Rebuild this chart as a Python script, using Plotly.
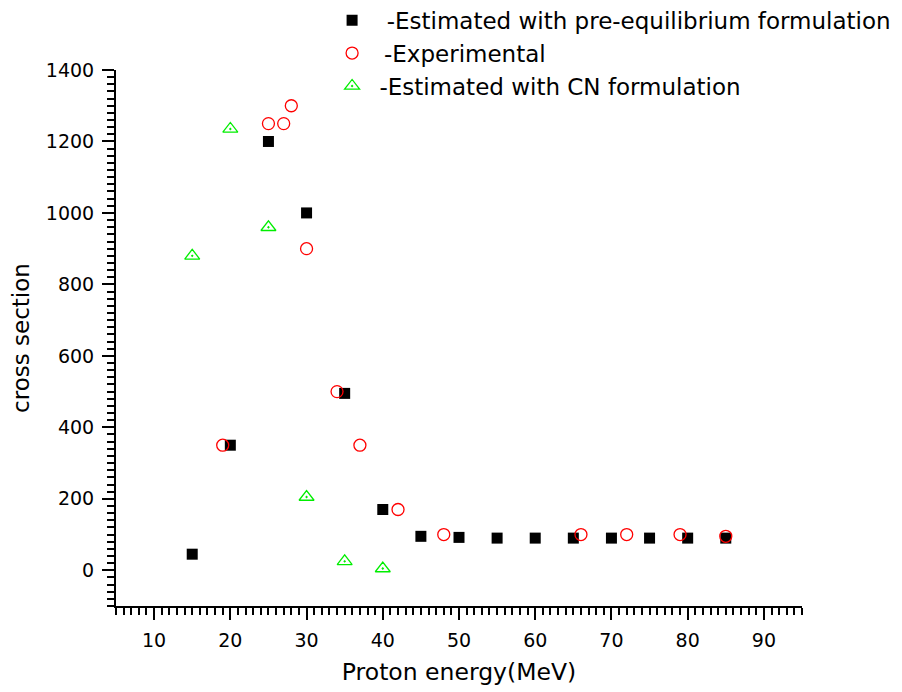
import plotly.graph_objects as go

# pre-equilibrium estimate
pe_energy = [15, 20, 25, 30, 35, 40, 45, 50, 55, 60, 65, 70, 75, 80, 85]
pe_xs = [45, 350, 1200, 1000, 495, 170, 95, 92, 90, 90, 90, 90, 90, 90, 90]

# experimental
exp_energy = [19, 25, 27, 28, 30, 34, 37, 42, 48, 66, 72, 79, 85]
exp_xs = [350, 1250, 1250, 1300, 900, 500, 350, 170, 100, 100, 100, 100, 95]

# compound nucleus estimate
cn_energy = [15, 20, 25, 30, 35, 40]
cn_xs = [880, 1235, 960, 205, 25, 5]

nb = '\u00a0'
th = '\u2009'
fig = go.Figure()
fig.add_trace(go.Scatter(x=pe_energy, y=pe_xs, mode='markers',
                         name=nb * 2 + '-Estimated with pre-equilibrium formulation',
                         marker=dict(symbol='square', size=11, color='black')))
fig.add_trace(go.Scatter(x=exp_energy, y=exp_xs, mode='markers',
                         name=nb + th + '-Experimental',
                         marker=dict(symbol='circle-open', size=12, color='red',
                                     line=dict(width=1.3))))
fig.add_trace(go.Scatter(x=cn_energy, y=cn_xs, mode='markers',
                         name=nb + '-Estimated with CN formulation',
                         marker=dict(symbol='triangle-up-open-dot', size=13, color='#00ee00',
                                     line=dict(width=1.3))))

axis_common = dict(showline=True, linecolor='black', linewidth=2, showgrid=False,
                   zeroline=False, ticks='outside', ticklen=12, tickwidth=2,
                   tickcolor='black', ticklabelstandoff=4, automargin=False,
                   tickfont=dict(size=19, color='black'))

# the page puts the figure 8px in from the top left, so margins are shifted
fig.update_layout(
    width=902, height=692,
    margin=dict(l=108, r=108, t=62, b=94, autoexpand=False),
    paper_bgcolor='white', plot_bgcolor='white',
    font=dict(family='DejaVu Sans, Arial, sans-serif', color='black'),
    xaxis=dict(range=[5, 95], tick0=0, dtick=10,
               minor=dict(dtick=1, ticks='outside', ticklen=7, tickwidth=2, tickcolor='black'),
               title=dict(text='Proton energy(MeV)', font=dict(size=23.5), standoff=14),
               **axis_common),
    yaxis=dict(range=[-100, 1400], tick0=0, dtick=200,
               minor=dict(dtick=20, ticks='outside', ticklen=7, tickwidth=2, tickcolor='black'),
               title=dict(text='cross section', font=dict(size=23), standoff=14),
               **axis_common),
    legend=dict(x=0.315, y=1.133, xanchor='left', yanchor='top',
                font=dict(size=23, color='black'), bgcolor='rgba(0,0,0,0)'),
)

fig.write_html('out.html')
